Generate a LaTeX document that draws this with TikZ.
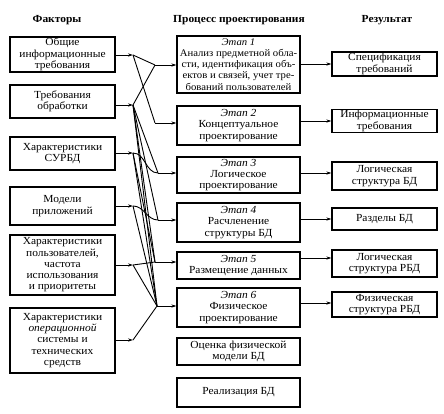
\documentclass[tikz,border=0pt]{standalone}
\usepackage{fontspec}
\setmainfont{Liberation Serif}[FakeStretch=1.06]
\usetikzlibrary{arrows.meta}
\begin{document}
\begin{tikzpicture}[x=1pt,y=-1pt,
  box/.style={draw, line width=1.3pt, align=center, inner sep=1pt, font=\fontsize{10.8}{11.3}\selectfont},
  lbox/.style={box, minimum width=105pt},
  cbox/.style={box, minimum width=123pt},
  rbox/.style={box, minimum width=105pt},
  arr/.style={-{Stealth[length=5pt,width=3.2pt]}, line width=0.9pt},
  ln/.style={line width=0.9pt},
  hdr/.style={font=\bfseries\fontsize{10.8}{12}\selectfont}]
\useasboundingbox (0,0) rectangle (444,413);
% headers
\node[hdr] (h1) at (57,20) {Факторы};
\node[hdr] (h2) at (239,20) {Процесс проектирования};
\node[hdr] (h3) at (387,20) {Результат};
% left boxes
\node[lbox, minimum height=35pt] (l1) at (62.5,54.5) {Общие\\информационные\\требования};
\node[lbox, minimum height=33pt] (l2) at (62.5,101.5) {Требования\\обработки};
\node[lbox, minimum height=33pt] (l3) at (62.5,153.5) {Характеристики\\СУРБД};
\node[lbox, minimum height=38pt] (l4) at (62.5,206) {Модели\\приложений};
\node[lbox, minimum height=60pt] (l5) at (62.5,265) {Характеристики\\пользователей,\\частота\\использования\\и приоритеты};
\node[lbox, minimum height=65pt] (l6) at (62.5,340.5) {Характеристики\\\textit{операционной}\\системы и\\технических\\средств};
% center boxes
\node[cbox, minimum height=57pt, inner xsep=0pt, font=\fontsize{10.1}{11.2}\selectfont] (c1) at (238.5,64.5) {\textit{Этап 1}\\Анализ предметной обла-\\сти, идентификация объ-\\ектов и связей, учет тре-\\бований пользователей};
\node[cbox, minimum height=39pt] (c2) at (238.5,125.5) {\textit{Этап 2}\\Концептуальное\\проектирование};
\node[cbox, minimum height=36pt] (c3) at (238.5,175) {\textit{Этап 3}\\Логическое\\проектирование};
\node[cbox, minimum height=39pt] (c4) at (238.5,222.5) {\textit{Этап 4}\\Расчленение\\структуры БД};
\node[cbox, minimum height=27pt] (c5) at (238.5,265.5) {\textit{Этап 5}\\Размещение данных};
\node[cbox, minimum height=39pt] (c6) at (238.5,307.5) {\textit{Этап 6}\\Физическое\\проектирование};
\node[cbox, minimum height=27pt] (c7) at (238.5,351.5) {Оценка физической\\модели БД};
\node[cbox, minimum height=29pt] (c8) at (238.5,392.5) {Реализация БД};
% right boxes
\node[rbox, minimum height=24pt] (r1) at (384.5,64) {Спецификация\\требований};
\node[rbox, minimum height=22pt] (r2) at (384.5,121) {Информационные\\требования};
\node[rbox, minimum height=28pt] (r3) at (384.5,176) {Логическая\\структура БД};
\node[rbox, minimum height=22pt] (r4) at (384.5,219) {Разделы БД};
\node[rbox, minimum height=27pt] (r5) at (384.5,263.5) {Логическая\\структура РБД};
\node[rbox, minimum height=25pt] (r6) at (384.5,304.5) {Физическая\\структура РБД};
% junctions
\coordinate (j1) at (133,55);
\coordinate (j2) at (133,105);
\coordinate (j3) at (133,153);
\coordinate (j4) at (133,206);
\coordinate (j5) at (133,265);
\coordinate (j6) at (133,340);
\coordinate (e1) at (155,65);
\coordinate (e2) at (155,123);
\coordinate (e3) at (158,173);
\coordinate (e4) at (158,220);
\coordinate (e5) at (155,262);
\coordinate (e6) at (157,306);
% left arrows
\foreach \i in {1,...,6} {\draw[arr] (l\i.east |- j\i) -- (j\i);}
% fan lines
\draw[ln] (j1) -- (e1);
\draw[ln] (j1) -- (e2);
\draw[ln] (j2) -- (e1);
\draw[ln] (j2) -- (e3);
\draw[ln] (j2) -- (e4);
\draw[ln] (j2) -- (e5);
\draw[ln] (j2) -- (e6);
\draw[ln] (j3) to[out=0,in=180] (e3);
\draw[ln] (j3) -- (e5);
\draw[ln] (j3) -- (e6);
\draw[ln] (j4) to[out=0,in=180] (e4);
\draw[ln] (j4) -- (e6);
\draw[ln] (j5) -- (e5);
\draw[ln] (j5) -- (e6);
\draw[ln] (j6) -- (e6);
% entry arrows
\foreach \i in {1,...,6} {\draw[arr] (e\i) -- (c\i.west |- e\i);}
% result arrows
\draw[arr] (c1.east |- r1.west) -- (r1.west);
\draw[arr] (c2.east |- r2.west) -- (r2.west);
\draw[arr] (c3.east |- 0,173) -- (r3.west |- 0,173);
\draw[arr] (c4.east |- r4.west) -- (r4.west);
\draw[arr] (c5.east |- 0,258) -- (r5.west |- 0,258);
\draw[arr] (c6.east |- 0,303) -- (r6.west |- 0,303);
\end{tikzpicture}
\end{document}
